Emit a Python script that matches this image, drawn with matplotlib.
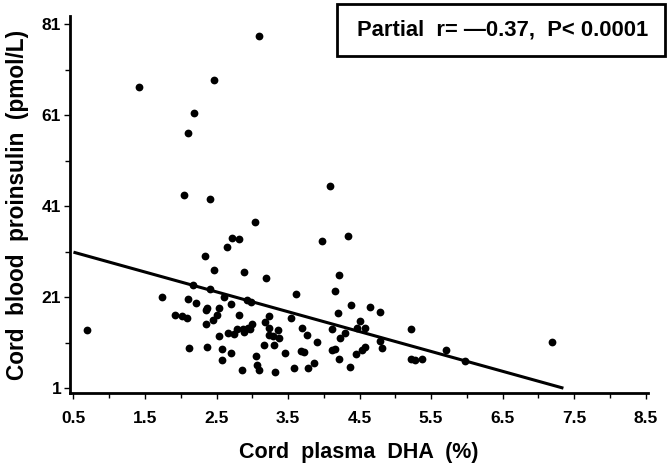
import matplotlib
matplotlib.use("Agg")
import matplotlib.pyplot as plt
from matplotlib.patches import Rectangle

# cord plasma DHA (%) vs cord blood proinsulin (pmol/L)
dha = [3.10, 1.42, 2.47, 2.19, 2.10, 2.04, 2.41, 4.09,
       3.04, 2.72, 2.81, 2.64, 2.34, 3.98, 4.34,
       2.47, 2.88, 3.19, 4.21, 2.17, 2.41, 4.16, 3.61,
       1.74, 2.10, 2.60, 2.93, 2.98, 2.22, 2.70, 4.38, 4.64,
       2.36, 2.35, 2.54, 4.78, 4.20,
       1.92, 2.02, 2.09, 2.50, 2.82, 3.24, 3.54, 4.51,
       2.45, 2.35, 3.18, 3.00,
       2.94, 2.87, 2.79, 2.97, 3.24, 3.36, 3.69, 4.12, 4.46, 4.57, 5.22, 0.69,
       2.88, 4.30, 2.75, 2.66, 2.54, 3.24, 3.29, 3.37, 3.77, 4.23,
       3.91, 4.79, 7.19, 3.17, 3.31, 4.82, 2.11, 2.36, 2.57, 5.71,
       4.12, 4.15, 4.54, 4.58, 3.68, 3.72, 2.70, 3.46, 4.45,
       3.05, 4.21, 5.22, 5.28, 5.37, 2.58, 5.97, 3.86,
       3.07, 4.36, 2.85, 3.10, 3.32, 3.58, 3.78]
proinsulin = [78.5, 67.3, 68.8, 61.5, 57.1, 43.5, 42.6, 45.5,
              37.6, 34.0, 33.9, 32.0, 30.1, 33.3, 34.4,
              27.0, 26.5, 25.3, 25.9, 23.6, 22.8, 22.3, 21.7,
              21.0, 20.7, 21.1, 20.4, 19.9, 19.7, 19.5, 19.2, 18.8,
              18.6, 18.2, 18.6, 17.7, 17.5,
              17.1, 16.8, 16.5, 17.0, 17.1, 16.9, 16.4, 15.7,
              16.0, 15.0, 15.5, 15.2,
              14.3, 14.1, 13.9, 13.9, 14.3, 13.7, 14.2, 13.9, 14.3, 14.2, 13.9, 13.8,
              13.4, 13.1, 12.8, 13.1, 12.5, 12.6, 12.5, 12.0, 12.6, 12.0,
              11.1, 11.4, 11.2, 10.5, 10.4, 9.9, 9.9, 10.1, 9.6, 9.5,
              9.4, 9.6, 9.4, 10.1, 9.1, 9.0, 8.7, 8.8, 8.6,
              8.0, 7.5, 7.5, 7.2, 7.5, 7.1, 6.9, 6.5,
              6.1, 5.7, 5.1, 4.9, 4.5, 5.4, 5.4]

# regression line end points
fit_x = [0.5, 7.35]
fit_y = [30.9, 1.0]

x_ticks = [0.5, 1.5, 2.5, 3.5, 4.5, 5.5, 6.5, 7.5, 8.5]
y_ticks = [1, 21, 41, 61, 81]
annotation = "Partial  r= \u20140.37,  P< 0.0001"

plt.rcParams['font.family'] = ['Liberation Sans', 'DejaVu Sans']
plt.rcParams['font.weight'] = 'bold'

fig = plt.figure(figsize=(6.72, 4.72), dpi=100)
ax = fig.add_axes([0.104, 0.167, 0.860, 0.799])

ax.plot(dha, proinsulin, 'o', color='black', markersize=5.6, markeredgewidth=0)
ax.plot(fit_x, fit_y, color='black', linewidth=2.2, solid_capstyle='butt')

ax.set_xlim(0.45, 8.53)
ax.set_ylim(-0.1, 82.8)
ax.set_xticks(x_ticks)
ax.set_xticklabels([f"{t:g}" for t in x_ticks])
ax.set_yticks(y_ticks)
ax.set_yticks([11, 31, 51, 71], minor=True)
ax.set_xticks([1, 2, 3, 4, 5, 6, 7, 8], minor=True)

for side in ['top', 'right']:
    ax.spines[side].set_visible(False)
for side in ['left', 'bottom']:
    ax.spines[side].set_linewidth(2)

ax.tick_params(which='major', length=4.3, width=1, labelsize=12.5, pad=2)
ax.tick_params(axis='x', which='major', length=4, pad=9)
ax.tick_params(which='minor', length=3.5, width=1)
for lbl in ax.get_xticklabels() + ax.get_yticklabels():
    lbl.set_fontweight('bold')

ax.set_xlabel("Cord  plasma  DHA  (%)", fontsize=15.5, fontweight='bold', labelpad=11)
ax.set_ylabel("Cord  blood  proinsulin  (pmol/L)", fontsize=16.3, fontweight='bold', labelpad=9)

# annotation box in the top right corner
fig.patches.append(Rectangle((337 / 672, 1 - 56 / 472), 328 / 672, 52 / 472,
                             transform=fig.transFigure, fill=False,
                             edgecolor='black', linewidth=2))
fig.text(503 / 672, 1 - 30 / 472, annotation, ha='center', va='center',
         fontsize=15.8, fontweight='bold')

fig.savefig("out.png", dpi=100)
